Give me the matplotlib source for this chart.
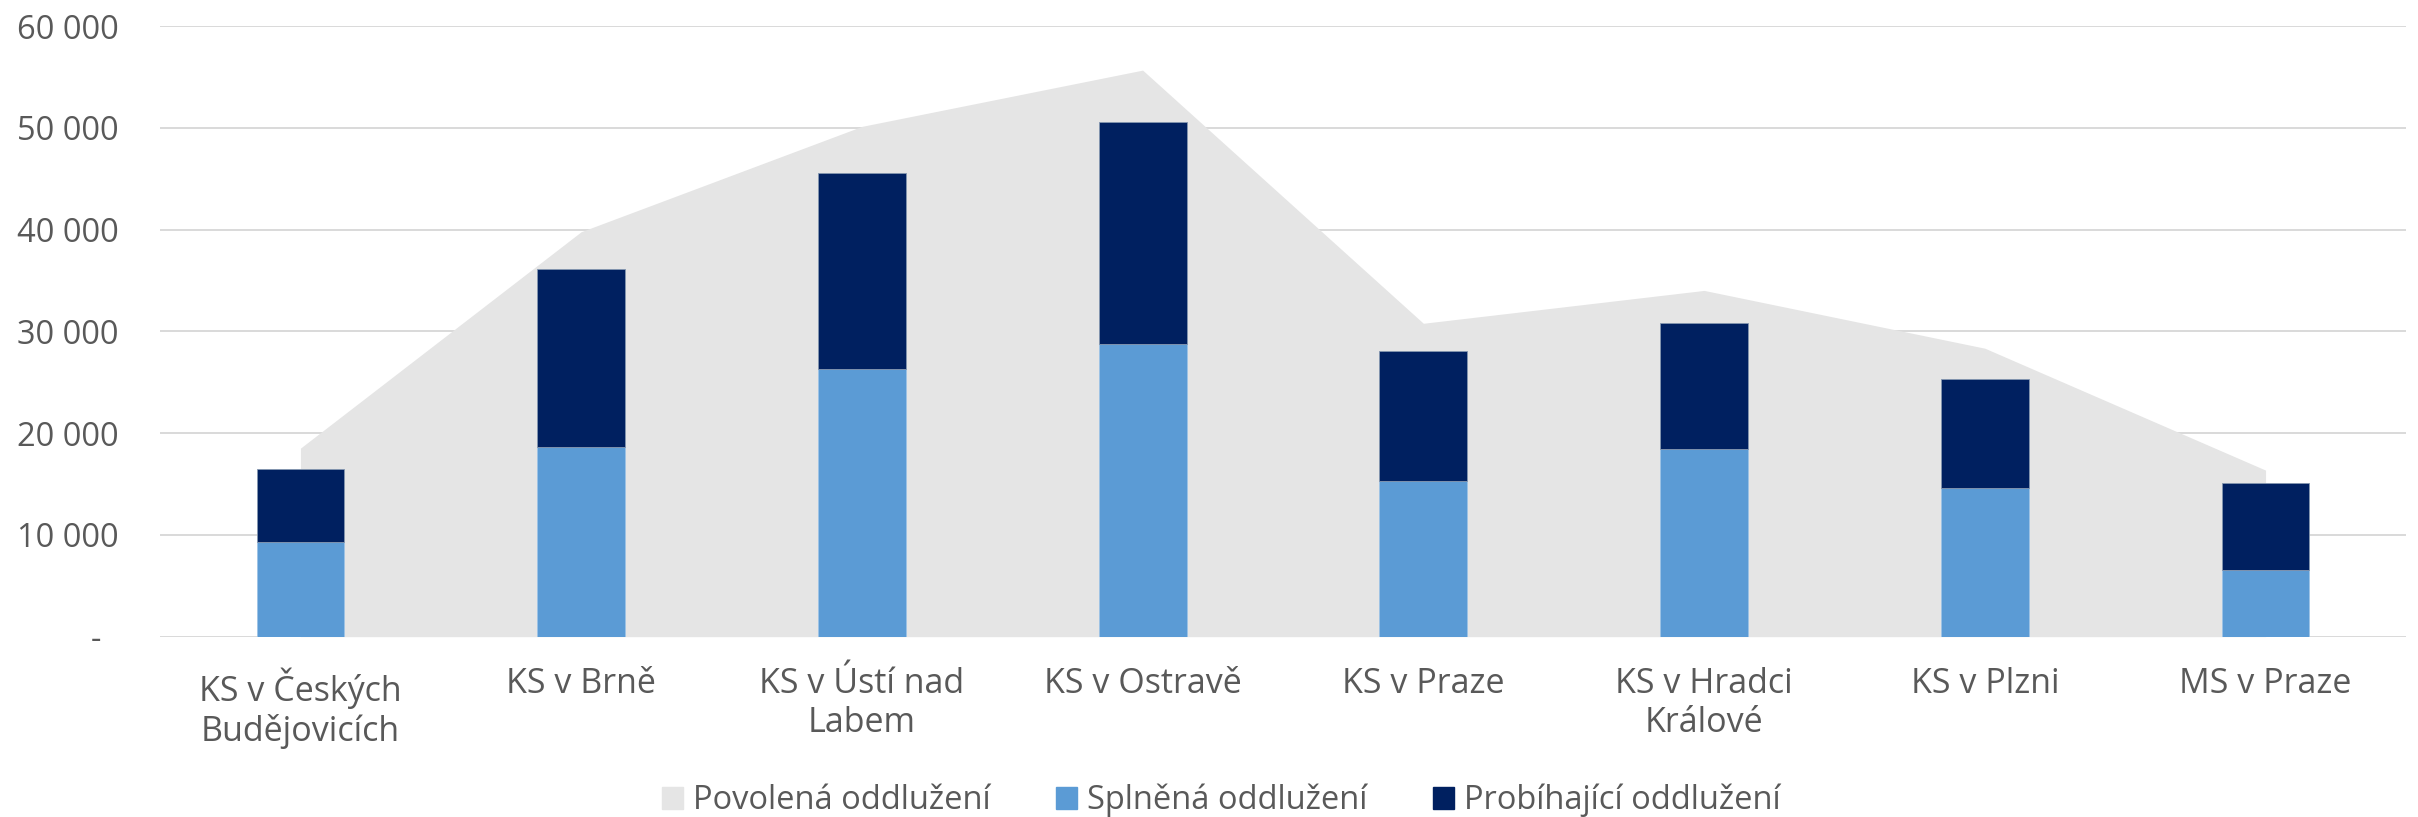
import matplotlib
matplotlib.use("Agg")
import matplotlib.pyplot as plt
from matplotlib.patches import Patch
from matplotlib.ticker import FuncFormatter

plt.rcParams["font.family"] = ["Open Sans", "DejaVu Sans"]

# Data
courts = ["KS v Českých\nBudějovicích", "KS v Brně", "KS v Ústí nad\nLabem",
          "KS v Ostravě", "KS v Praze", "KS v Hradci\nKrálové", "KS v Plzni",
          "MS v Praze"]
povolena = [18530, 39800, 50150, 55680, 30800, 34030, 28350, 16370]
splnena = [9350, 18690, 26290, 28720, 15340, 18430, 14660, 6560]
probihajici_total = [16440, 36170, 45590, 50590, 28030, 30840, 25280, 15080]
probihajici = [t - s for t, s in zip(probihajici_total, splnena)]

c_area = "#E5E5E5"
c_light = "#5B9BD5"
c_dark = "#002060"
c_text = "#595959"
c_grid = "#D9D9D9"

fig = plt.figure(figsize=(24.18, 8.17), dpi=100)
ax = fig.add_axes([0.0662, 0.2207, 0.9288, 0.7473])

x = list(range(len(courts)))
ax.fill_between(x, povolena, 0, color=c_area, linewidth=0, zorder=2)
ax.bar(x, splnena, 0.313, color=c_light, edgecolor="#9DC3E6", linewidth=0.6, zorder=3)
ax.bar(x, probihajici, 0.313, bottom=splnena, color=c_dark, edgecolor="#8497B0",
       linewidth=0.6, zorder=3)

ax.set_xlim(-0.5, len(courts) - 0.5)
ax.set_ylim(0, 60000)
ax.set_yticks(range(0, 60001, 10000))
ax.yaxis.set_major_formatter(FuncFormatter(
    lambda v, p: "-  " if v == 0 else f"{int(v):,}".replace(",", " ")))
ax.grid(axis="y", color=c_grid, linewidth=1.4, zorder=0)
ax.set_axisbelow(True)
for s in ax.spines.values():
    s.set_visible(False)

ax.set_xticks(x)
ax.set_xticklabels(courts, fontsize=24.5, color=c_text, linespacing=1.2)
ax.tick_params(axis="x", length=0, pad=22)
ax.tick_params(axis="y", length=0, pad=30, labelsize=23.5, labelcolor=c_text)

handles = [Patch(color=c_area, label="Povolená oddlužení"),
           Patch(color=c_light, label="Splněná oddlužení"),
           Patch(color=c_dark, label="Probíhající oddlužení")]
fig.legend(handles=handles, loc="center", bbox_to_anchor=(0.505, 0.02), ncol=3,
           frameon=False, fontsize=23.5, handlelength=0.65, handleheight=0.65,
           handletextpad=0.3, columnspacing=2.0, labelcolor=c_text)

fig.savefig("out.png", dpi=100)
